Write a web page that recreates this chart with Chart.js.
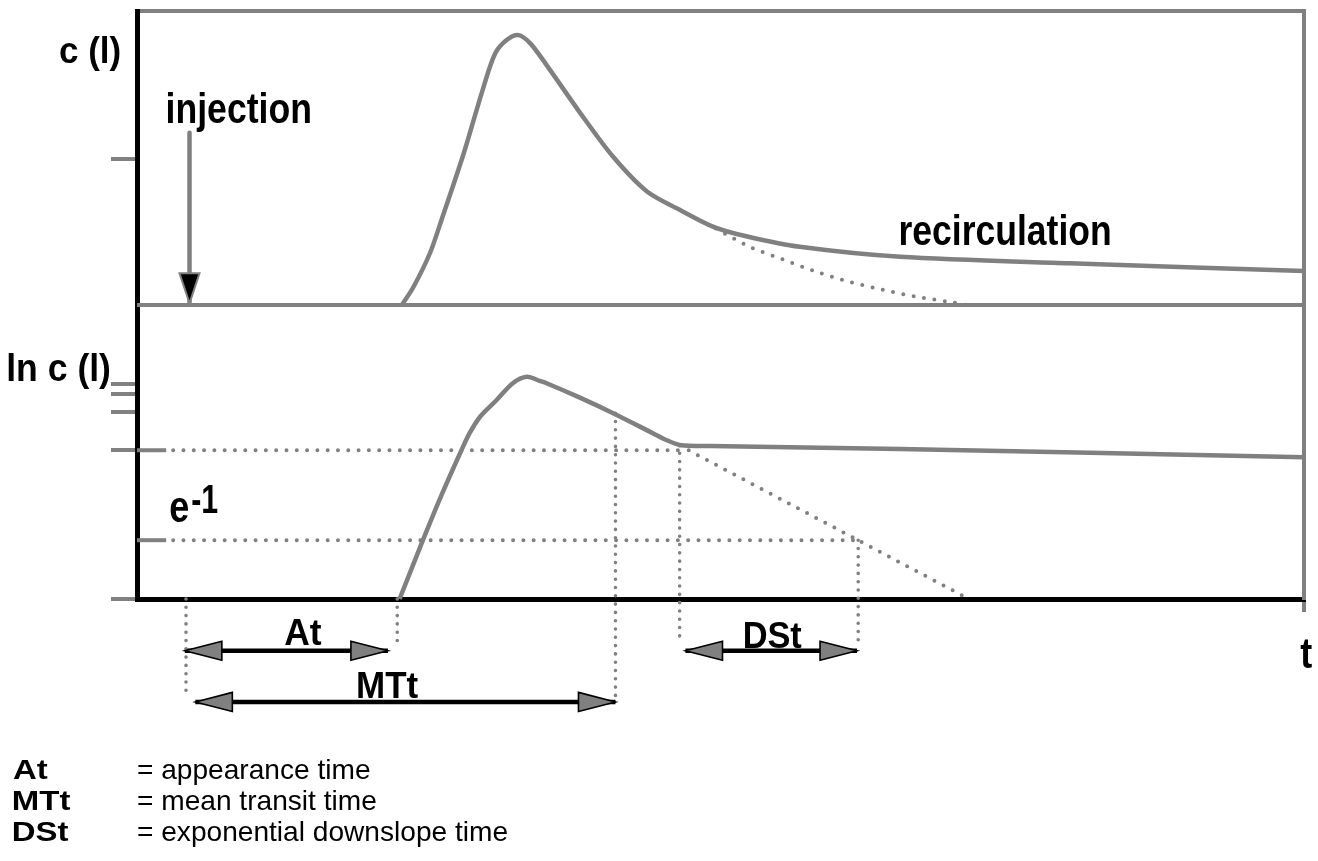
<!DOCTYPE html>
<html>
<head>
<meta charset="utf-8">
<script src="https://cdn.jsdelivr.net/npm/chart.js@4.4.1/dist/chart.umd.min.js"></script>
<style>
html,body{margin:0;padding:0;background:#fff;}
canvas{display:block;}
</style>
</head>
<body>
<canvas id="c" width="1318" height="861"></canvas>
<script>
// ---------- data (time t in arbitrary units 0..100) ----------
// upper panel: concentration c(t), first pass + recirculation
const timeFirstPass = [22.7, 23.7, 25.1, 26.1, 28.0, 29.7, 30.7, 31.7, 32.7, 33.7, 35.1, 38.0, 40.8, 43.7, 46.5, 49.4, 52.2, 56.8, 65.4, 79.9, 100];
const concFirstPass = [0, 3.1, 8.8, 14.5, 25.8, 37.1, 42.8, 45.1, 45.9, 44.5, 40.8, 32.6, 25.2, 19.3, 16.2, 13.3, 11.7, 9.9, 8.2, 7.1, 5.8];
// upper panel: extrapolated downslope without recirculation (dotted)
const timeTail = [49.6, 52.5, 55.4, 58.3, 61.1, 63.9, 66.8, 69.7, 71.1];
const concTail = [13.0, 9.9, 7.7, 5.6, 3.9, 2.6, 1.4, 0.5, 0];
// lower panel: ln c(t)
const timeLog = [22.5, 24.5, 26.1, 27.8, 28.5, 29.4, 30.8, 32.2, 33.4, 34.5, 35.1, 38.0, 40.8, 44.2, 45.4, 46.5, 49.1, 65.4, 100];
const logConc = [0, 10.0, 17.7, 25.3, 28.2, 31.0, 33.8, 36.7, 37.8, 37.1, 36.7, 34.2, 31.6, 28.2, 27.0, 26.2, 26.0, 25.5, 24.1];
// lower panel: linear (exponential) downslope extrapolation (dotted)
const timeLogTail = [46.5, 71.1];
const logTail = [26.1, 0.2];
// reference levels in the lower panel: downslope start and e^-1 level
const levelValues = [25.3, 10.0];
const levelEnds = [46.5, 61.8];
const levelSolidEnd = 2.5;
// vertical guide lines (time, from value, to value) in lower-panel units
const guideTimes = [4.2, 22.3, 41.0, 46.5, 61.8];
const guideFrom = [0, 0, 31.6, 26.2, 10.0];
const guideTo = [-15.8, -7.3, -16.5, -7.5, -7.3];
// measured intervals
const intervalNames = ['At', 'MTt', 'DSt'];
const intervalStart = [4.1, 5.0, 47.0];
const intervalEnd = [21.5, 41.0, 61.7];
const intervalLevel = [-8.8, -17.5, -8.8];
// injection marker (upper panel units)
const injectionTime = 4.5;
const injectionFrom = 29.3;
const injectionTo = 0.3;
// axis tick values
const ticksC = [24.8];
const ticksLn = [0, 25.3, 31.8, 34.9, 36.6];
const timeMax = 100;
// legend
const legendKeys = ['At', 'MTt', 'DSt'];
const legendTexts = ['= appearance time', '= mean transit time', '= exponential downslope time'];

// ---------- styles ----------
const GRAY = '#808080';
const BLACK = '#000000';
const FONT = '"Liberation Sans", Arial, Helvetica, sans-serif';

function pts(xs, ys) { return xs.map((x, i) => ({x: x, y: ys[i]})); }
function solid(data, axis, extra) {
  return Object.assign({type: 'line', data: data, yAxisID: axis, borderColor: GRAY, borderWidth: 4.5,
    pointRadius: 0, fill: false, clip: false, tension: 0, borderCapStyle: 'butt', borderJoinStyle: 'round'}, extra || {});
}
function dotted(data, axis, gap, width) {
  return solid(data, axis, {borderWidth: width, borderDash: [0, gap], borderCapStyle: 'round'});
}

const datasets = [];
datasets.push(solid(pts([0, timeMax], [0, 0]), 'yTop', {borderWidth: 4}));
datasets.push(solid(pts(timeFirstPass, concFirstPass), 'yTop', {tension: 0.3}));
const tailDs = dotted(pts(timeTail, concTail), 'yTop', 10.5, 4);
tailDs.tension = 0.3;
datasets.push(tailDs);
datasets.push(solid(pts([injectionTime, injectionTime], [injectionFrom, injectionTo]), 'yTop', {borderWidth: 4.5}));
datasets.push(solid(pts(timeLog, logConc), 'y', {tension: 0.3}));
datasets.push(dotted(pts(timeLogTail, logTail), 'y', 10.3, 4));
levelValues.forEach((v, i) => {
  datasets.push(solid(pts([0, levelSolidEnd], [v, v]), 'y', {borderWidth: 4}));
  datasets.push(dotted(pts([levelSolidEnd + 0.6, levelEnds[i]], [v, v]), 'y', 10.3, 4));
});
guideTimes.forEach((t, i) => {
  datasets.push(dotted(pts([t, t], [guideFrom[i], guideTo[i]]), 'y', 8.3, 3.6));
});
intervalNames.forEach((n, i) => {
  datasets.push(solid(pts([intervalStart[i], intervalEnd[i]], [intervalLevel[i], intervalLevel[i]]), 'y',
    {borderColor: BLACK, borderWidth: 4.5}));
});

// ---------- annotation plugin ----------
function drawHead(ctx, tx, ty, dx, dy, len, half, fill, stroke, lw) {
  const bx = tx - dx * len, by = ty - dy * len;
  const px = -dy, py = dx;
  ctx.beginPath();
  ctx.moveTo(tx, ty);
  ctx.lineTo(bx + px * half, by + py * half);
  ctx.lineTo(bx - px * half, by - py * half);
  ctx.closePath();
  ctx.fillStyle = fill; ctx.fill();
  ctx.lineWidth = lw; ctx.strokeStyle = stroke; ctx.lineJoin = 'miter'; ctx.stroke();
}
function drawFitted(ctx, text, x, y, size, weight, width, align, sxOverride) {
  ctx.font = weight + ' ' + size + 'px ' + FONT;
  ctx.textAlign = 'left';
  ctx.textBaseline = 'alphabetic';
  const m = ctx.measureText(text);
  const ink = m.actualBoundingBoxLeft + m.actualBoundingBoxRight;
  const sx = sxOverride || (width / ink);
  ctx.save();
  ctx.translate(x, y);
  ctx.scale(sx, 1);
  let ox = m.actualBoundingBoxLeft;
  if (align === 'center') ox -= ink / 2;
  ctx.fillStyle = BLACK;
  ctx.fillText(text, ox, 0);
  ctx.restore();
  return sx;
}

const labels = [
  {text: 'c (l)', axis: 'yTop', t: -6.6, v: 41.2, size: 37, width: 60, align: 'left'},
  {text: 'injection', axis: 'yTop', t: 2.66, v: 31.0, size: 43, width: 142, align: 'left'},
  {text: 'recirculation', axis: 'yTop', t: 65.4, v: 10.2, size: 42, width: 210, align: 'left'},
  {text: 'ln c (l)', axis: 'y', t: -11.05, v: 37.0, size: 39, width: 102, align: 'left'},
  {text: 'e', axis: 'y', t: 2.83, v: 13.1, size: 44, width: 18, align: 'left'},
  {text: '-1', axis: 'y', t: 4.71, v: 14.6, size: 40, width: 26, align: 'left'},
  {text: 't', axis: 'y', t: 100.2, v: -11.7, size: 42, width: 12, align: 'center'},
  {text: 'At', axis: 'y', t: 14.2, v: -7.8, size: 37, width: 37, align: 'center'},
  {text: 'MTt', axis: 'y', t: 21.5, v: -16.8, size: 37, width: 60, align: 'center'},
  {text: 'DSt', axis: 'y', t: 54.5, v: -8.3, size: 37, width: 57, align: 'center'}
];

const annotations = {
  id: 'annotations',
  afterDatasetsDraw(chart) {
    const ctx = chart.ctx, xs = chart.scales.x, yb = chart.scales.y, yt = chart.scales.yTop;
    ctx.save();
    intervalNames.forEach((n, i) => {
      const y = yb.getPixelForValue(intervalLevel[i]);
      const x0 = xs.getPixelForValue(intervalStart[i]);
      const x1 = xs.getPixelForValue(intervalEnd[i]);
      drawHead(ctx, x0, y, -1, 0, 37, 9.5, GRAY, BLACK, 1.6);
      drawHead(ctx, x1, y, 1, 0, 37, 9.5, GRAY, BLACK, 1.6);
    });
    drawHead(ctx, xs.getPixelForValue(injectionTime), yt.getPixelForValue(injectionTo), 0, 1, 30, 10, BLACK, GRAY, 2);
    ctx.restore();
  },
  afterDraw(chart) {
    const ctx = chart.ctx, xs = chart.scales.x;
    ctx.save();
    labels.forEach(l => {
      const sc = chart.scales[l.axis];
      drawFitted(ctx, l.text, xs.getPixelForValue(l.t), sc.getPixelForValue(l.v), l.size, 'bold', l.width, l.align);
    });
    const left = 13, eqLeft = 138, base0 = 779, gap = 31.2;
    ctx.font = 'bold 28px ' + FONT;
    let m = ctx.measureText('MTt');
    const kx = 57 / (m.actualBoundingBoxLeft + m.actualBoundingBoxRight);
    ctx.font = 'normal 28px ' + FONT;
    m = ctx.measureText(legendTexts[0]);
    const dx = 232 / (m.actualBoundingBoxLeft + m.actualBoundingBoxRight);
    legendKeys.forEach((k, i) => {
      drawFitted(ctx, k, left, base0 + i * gap, 28, 'bold', 0, 'left', kx);
      drawFitted(ctx, legendTexts[i], eqLeft, base0 + i * gap, 28, 'normal', 0, 'left', dx);
    });
    ctx.restore();
  }
};

const hiddenTicks = {display: false};
new Chart(document.getElementById('c'), {
  type: 'line',
  data: {datasets: datasets},
  options: {
    responsive: false,
    animation: false,
    events: [],
    layout: {padding: {left: 137, right: 14, top: 11, bottom: 262}},
    plugins: {legend: {display: false}, tooltip: {enabled: false}},
    elements: {line: {capBezierPoints: false}},
    scales: {
      x: {
        type: 'linear', min: 0, max: timeMax, position: 'bottom',
        border: {display: true, color: BLACK, width: 5},
        grid: {display: true, drawOnChartArea: false, drawTicks: true, tickLength: 13, tickWidth: 4, tickColor: GRAY, color: GRAY, lineWidth: 4},
        ticks: hiddenTicks,
        afterBuildTicks: s => { s.ticks = [{value: timeMax}]; },
        afterFit: s => { s.height = 0; }
      },
      x2: {
        type: 'linear', min: 0, max: timeMax, position: 'top',
        border: {display: true, color: GRAY, width: 4},
        grid: {display: false}, ticks: hiddenTicks,
        afterFit: s => { s.height = 0; }
      },
      y: {
        type: 'linear', min: 0, max: 100, position: 'left',
        border: {display: true, color: BLACK, width: 5},
        grid: {display: true, drawOnChartArea: false, drawTicks: true, tickLength: 26, tickWidth: 4, tickColor: GRAY, color: GRAY, lineWidth: 4},
        ticks: hiddenTicks,
        afterBuildTicks: s => { s.ticks = ticksLn.map(v => ({value: v})); },
        afterFit: s => { s.width = 0; }
      },
      yTop: {
        type: 'linear', min: -50, max: 50, position: 'left',
        border: {display: false},
        grid: {display: true, drawOnChartArea: false, drawTicks: true, tickLength: 26, tickWidth: 4, tickColor: GRAY, color: GRAY, lineWidth: 4},
        ticks: hiddenTicks,
        afterBuildTicks: s => { s.ticks = ticksC.map(v => ({value: v})); },
        afterFit: s => { s.width = 0; }
      },
      y2: {
        type: 'linear', min: 0, max: 100, position: 'right',
        border: {display: true, color: GRAY, width: 4},
        grid: {display: false}, ticks: hiddenTicks,
        afterFit: s => { s.width = 0; }
      }
    }
  },
  plugins: [annotations]
});
</script>
</body>
</html>
